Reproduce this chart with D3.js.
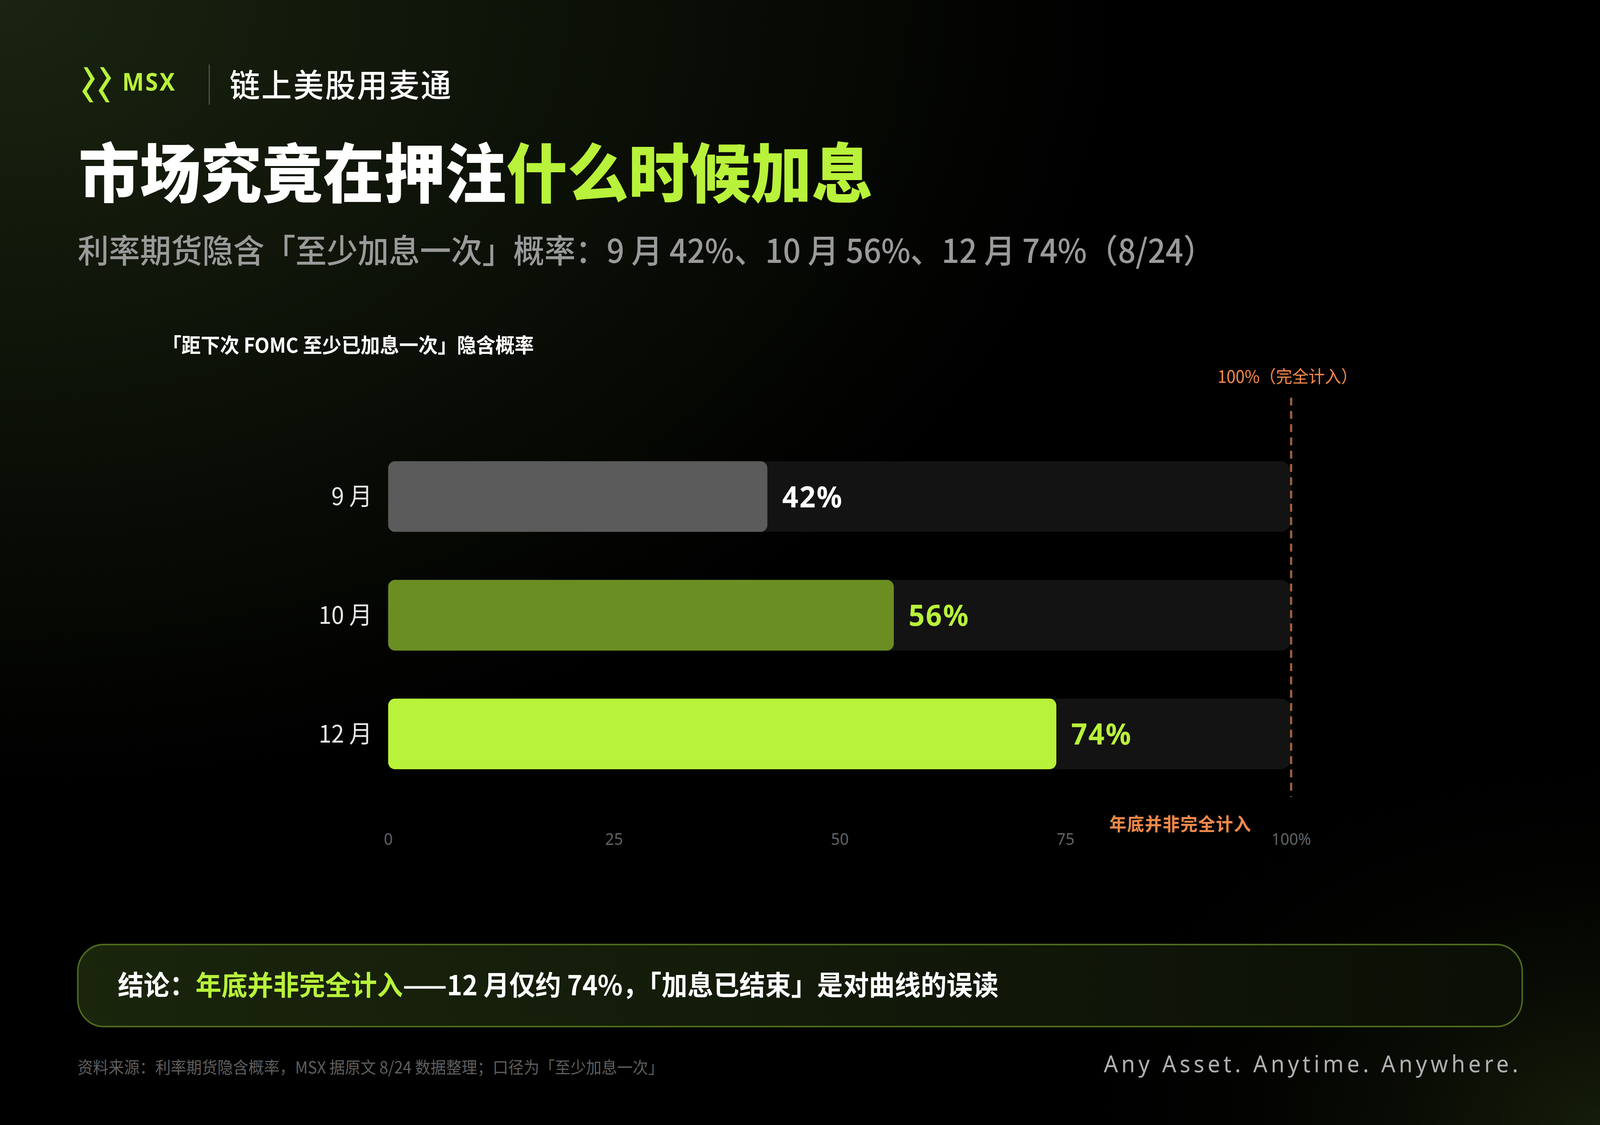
<!DOCTYPE html>
<html><head><meta charset="utf-8">
<script src="https://cdn.jsdelivr.net/npm/d3@7"></script>
<style>html,body{margin:0;padding:0;background:#000;overflow:hidden;width:100vw;height:100vh;}svg{display:block;width:100vw;height:100vh;}</style>
</head><body>
<script>
const categories = ["9 月", "10 月", "12 月"];
const values = [42, 56, 74];
const tickValues = [0, 25, 50, 75, 100];
const tickLabels = ["0", "25", "50", "75", "100%"];
const barColors = ["#5b5b5b", "#6b8e23", "#b8f23a"];
const labelColors = ["#ffffff", "#b8f23a", "#b8f23a"];

const W = 4320, H = 2880;
const F = "'Noto Sans CJK SC','Noto Sans',sans-serif";
const svg = d3.select("body").append("svg").attr("viewBox",`0 0 ${W} ${H}`).attr("preserveAspectRatio","none");
const defs = svg.append("defs");
const g1 = defs.append("radialGradient").attr("id","tl").attr("cx","0").attr("cy","0").attr("r","0.7");
g1.append("stop").attr("offset","0").attr("stop-color","#1a2410");
g1.append("stop").attr("offset","1").attr("stop-color","#000");
const g2 = defs.append("radialGradient").attr("id","br").attr("cx","1").attr("cy","1").attr("r","0.35");
g2.append("stop").attr("offset","0").attr("stop-color","#161d0a").attr("stop-opacity",1);
g2.append("stop").attr("offset","1").attr("stop-color","#000").attr("stop-opacity",0);
const g3 = defs.append("linearGradient").attr("id","box").attr("x1","0").attr("x2","1");
g3.append("stop").attr("offset","0").attr("stop-color","#1a250c");
g3.append("stop").attr("offset","1").attr("stop-color","#0b0f06");
svg.append("rect").attr("width",W).attr("height",H).attr("fill","url(#tl)");
svg.append("rect").attr("width",W).attr("height",H).attr("fill","url(#br)");

// header logo
const lg = svg.append("g").attr("transform","translate(222,172)").attr("fill","#b8f23a");
lg.append("path").attr("d","M14,0 L34,30 L12,62 L30,90 L20,90 L0,62 L22,30 L4,0 Z");
lg.append("path").attr("d","M64,90 L44,60 L66,28 L48,0 L58,0 L78,28 L56,60 L74,90 Z");
svg.append("text").attr("x",330).attr("y",232).attr("fill","#b8f23a").attr("font-family","'Noto Sans',sans-serif")
  .attr("font-weight",700).attr("font-size",62).attr("letter-spacing",4).text("MSX");
svg.append("line").attr("x1",565).attr("x2",565).attr("y1",165).attr("y2",268).attr("stroke","#555").attr("stroke-width",3);
svg.append("text").attr("x",620).attr("y",248).attr("fill","#fff").attr("font-family",F).attr("font-weight",500)
  .attr("font-size",82).attr("letter-spacing",4).text("链上美股用麦通");

// title
const t = svg.append("text").attr("x",212).attr("y",505).attr("font-family",F).attr("font-weight",900).attr("font-size",165);
t.append("tspan").attr("fill","#fff").text("市场究竟在押注");
t.append("tspan").attr("fill","#b8f23a").text("什么时候加息");
svg.append("text").attr("x",210).attr("y",673).attr("fill","#9a9a9a").attr("font-family",F).attr("font-weight",500)
  .attr("font-size",84).text("利率期货隐含「至少加息一次」概率：9 月 42%、10 月 56%、12 月 74%（8/24）");
svg.append("text").attr("x",438).attr("y",903).attr("fill","#fff").attr("font-family",F).attr("font-weight",700)
  .attr("font-size",52).text("「距下次 FOMC 至少已加息一次」隐含概率");

// chart
const x = d3.scaleLinear().domain([0,100]).range([1048,3486]);
const y = d3.scaleBand().domain(categories).range([1120,2030]).paddingInner(0.405).paddingOuter(0.2);
const bh = y.bandwidth();
const rows = svg.append("g").selectAll("g").data(categories).join("g");
rows.append("rect").attr("x",x(0)).attr("y",d=>y(d)).attr("width",x(100)-x(0)).attr("height",bh).attr("rx",28).attr("fill","#131313");
rows.append("rect").attr("x",x(0)).attr("y",d=>y(d)).attr("width",(d,i)=>x(values[i])-x(0)).attr("height",bh).attr("rx",18)
  .attr("fill",(d,i)=>barColors[i]);
rows.append("text").attr("x",(d,i)=>x(values[i])+40).attr("y",d=>y(d)+bh/2).attr("dy","0.36em")
  .attr("fill",(d,i)=>labelColors[i]).attr("font-family","'Noto Sans',sans-serif").attr("font-weight",700).attr("font-size",76)
  .attr("letter-spacing",3).text((d,i)=>values[i]+"%");
rows.append("text").attr("x",1005).attr("y",d=>y(d)+bh/2).attr("dy","0.36em").attr("text-anchor","end")
  .attr("fill","#e8e8e8").attr("font-family",F).attr("font-size",62).text(d=>d);

svg.append("line").attr("x1",x(100)).attr("x2",x(100)).attr("y1",1018).attr("y2",2040)
  .attr("stroke","#a0603a").attr("stroke-width",6).attr("stroke-dasharray","20,14");
svg.append("text").attr("x",x(100)-10).attr("y",980).attr("text-anchor","middle").attr("fill","#f08a4b")
  .attr("font-family",F).attr("font-size",44).text("100%（完全计入）");
svg.append("text").attr("x",3187).attr("y",2126).attr("text-anchor","middle").attr("fill","#f08a4b")
  .attr("font-family",F).attr("font-weight",700).attr("font-size",46).attr("letter-spacing",2).text("年底并非完全计入");

const ax = svg.append("g").attr("transform","translate(0,2160)")
  .call(d3.axisBottom(x).tickValues(tickValues).tickFormat((d,i)=>tickLabels[i]).tickSize(0));
ax.select(".domain").remove();
ax.selectAll("text").attr("fill","#5f6366").attr("font-family","'Noto Sans',sans-serif").attr("font-size",42).attr("dy","0");

// conclusion
svg.append("rect").attr("x",210).attr("y",2418).attr("width",3900).attr("height",210).attr("rx",70)
  .attr("fill","url(#box)").attr("stroke","#4d6a1c").attr("stroke-width",4);
const c = svg.append("text").attr("x",318).attr("y",2548).attr("font-family",F).attr("font-weight",700).attr("font-size",70);
c.append("tspan").attr("fill","#fff").text("结论：");
c.append("tspan").attr("fill","#b8f23a").text("年底并非完全计入");
c.append("tspan").attr("fill","#fff").text("——12 月仅约 74%，「加息已结束」是对曲线的误读");

svg.append("text").attr("x",209).attr("y",2748).attr("fill","#5e5e5e").attr("font-family",F).attr("font-size",42)
  .text("资料来源：利率期货隐含概率，MSX 据原文 8/24 数据整理；口径为「至少加息一次」");
svg.append("text").attr("x",4108).attr("y",2745).attr("text-anchor","end").attr("fill","#b0b0b0").attr("font-family","'Noto Sans',sans-serif")
  .attr("font-size",60).attr("letter-spacing",9).text("Any Asset. Anytime. Anywhere.");
</script>
</body></html>
